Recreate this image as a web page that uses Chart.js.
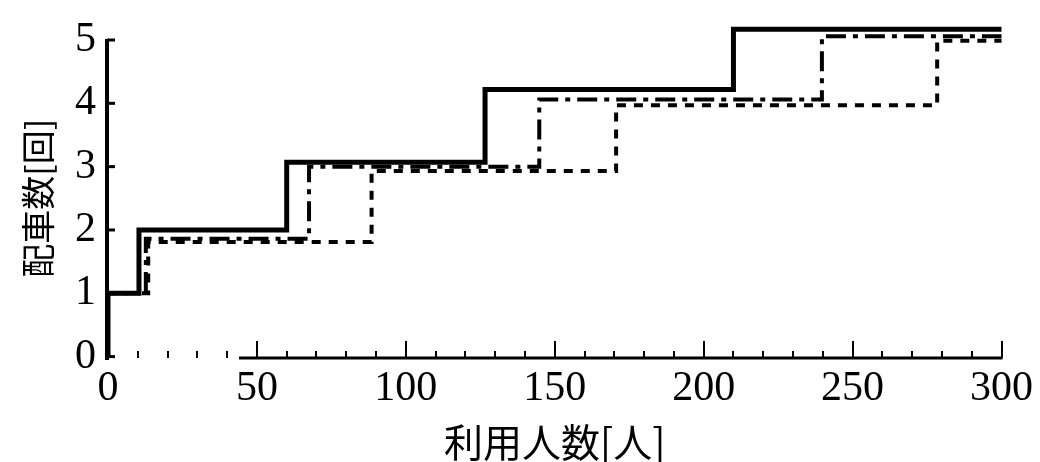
<!DOCTYPE html>
<html>
<head>
<meta charset="utf-8">
<script src="https://cdn.jsdelivr.net/npm/chart.js@4.4.0/dist/chart.umd.min.js"></script>
<style>
  html, body { margin: 0; padding: 0; background: #fff; }
</style>
</head>
<body>
<canvas id="stepChart" width="1040" height="462"></canvas>
<script>
// values (step points: value changes at x)
const solidX = [0, 0, 10.4, 60, 126.6, 210, 300];
const solidY = [0, 1, 2, 3.07, 4.22, 5.17, 5.17];

const dashDotX = [0, 12.7, 67.5, 144.8, 239.7, 300];
const dashDotY = [1, 1.86, 3.0, 4.06, 5.06, 5.06];

const dashedX = [0, 13.5, 88.5, 170.6, 278.4, 300];
const dashedY = [1, 1.81, 2.93, 3.97, 4.99, 4.99];

const xTicks = [0, 50, 100, 150, 200, 250, 300];
const yTicks = [0, 1, 2, 3, 4, 5];
const xTitle = "利用人数[人]";
const yTitle = "配車数[回]";

function toPoints(xs, ys) {
  return xs.map((x, i) => ({ x: x, y: ys[i] }));
}

// axis lines + inward tick marks like the scanned figure
const axisPlugin = {
  id: "axisLines",
  beforeDatasetsDraw(chart) {
    const ctx = chart.ctx;
    const xs = chart.scales.x, ys = chart.scales.y;
    const yAxis = ys.getPixelForValue(0) + 1.5;
    const xAxis = xs.getPixelForValue(0) - 1;
    ctx.save();
    ctx.strokeStyle = "#000";

    // x axis (the scan has no line between 0 and ~45)
    ctx.lineWidth = 3;
    ctx.beginPath();
    ctx.moveTo(xs.getPixelForValue(44), yAxis);
    ctx.lineTo(xs.getPixelForValue(300) + 1, yAxis);
    ctx.stroke();

    ctx.lineWidth = 2;
    for (let v = 10; v <= 300; v += 10) {
      const px = Math.round(xs.getPixelForValue(v));
      const len = v % 50 === 0 ? 17 : 7;
      ctx.beginPath();
      ctx.moveTo(px, yAxis);
      ctx.lineTo(px, yAxis - len);
      ctx.stroke();
    }

    // y axis
    ctx.lineWidth = 4;
    ctx.beginPath();
    ctx.moveTo(xAxis, yAxis + 2);
    ctx.lineTo(xAxis, ys.getPixelForValue(5) - 1);
    ctx.stroke();

    ctx.lineWidth = 3;
    yTicks.forEach(v => {
      const py = ys.getPixelForValue(v);
      ctx.beginPath();
      ctx.moveTo(xAxis, py);
      ctx.lineTo(xAxis + 8, py);
      ctx.stroke();
    });
    ctx.restore();
  }
};

const serif = "'Liberation Serif', 'Times New Roman', serif";
const cjk = "'Noto Sans CJK JP', sans-serif";

new Chart("stepChart", {
  type: "line",
  data: {
    datasets: [{
      data: toPoints(solidX, solidY),
      stepped: true,
      borderColor: "#000",
      borderWidth: 5,
      pointRadius: 0,
      fill: false,
      clip: false
    }, {
      data: toPoints(dashDotX, dashDotY),
      stepped: true,
      borderColor: "#000",
      borderWidth: 4,
      borderDash: [20, 7, 5, 7],
      pointRadius: 0,
      fill: false,
      clip: false
    }, {
      data: toPoints(dashedX, dashedY),
      stepped: true,
      borderColor: "#000",
      borderWidth: 4,
      borderDash: [9, 8],
      pointRadius: 0,
      fill: false,
      clip: false
    }]
  },
  options: {
    responsive: false,
    animation: false,
    devicePixelRatio: 1,
    layout: { padding: { top: 40, right: 35, left: 0, bottom: 0 } },
    plugins: { legend: { display: false }, tooltip: { enabled: false } },
    scales: {
      x: {
        type: "linear",
        min: 0,
        max: 300,
        afterBuildTicks: s => { s.ticks = xTicks.map(v => ({ value: v })); },
        afterFit: s => { s.height = 105.4; },
        grid: { display: false, drawTicks: false },
        border: { display: false },
        ticks: {
          color: "#000",
          font: { family: serif, size: 42 },
          padding: 7,
          maxRotation: 0,
          autoSkip: false
        },
        title: {
          display: true,
          text: xTitle,
          color: "#000",
          font: { family: cjk, size: 39, lineHeight: 1 },
          padding: 0
        }
      },
      y: {
        min: 0,
        max: 5,
        afterBuildTicks: s => { s.ticks = yTicks.map(v => ({ value: v })); },
        afterFit: s => { s.width = 108; },
        grid: { display: false, drawTicks: false },
        border: { display: false },
        ticks: {
          color: "#000",
          font: { family: serif, size: 42 },
          padding: 12
        },
        title: {
          display: true,
          text: yTitle,
          color: "#000",
          font: { family: cjk, size: 34, lineHeight: 1.2 },
          padding: { top: 17.6, bottom: 0 }
        }
      }
    }
  },
  plugins: [axisPlugin]
});
</script>
</body>
</html>
